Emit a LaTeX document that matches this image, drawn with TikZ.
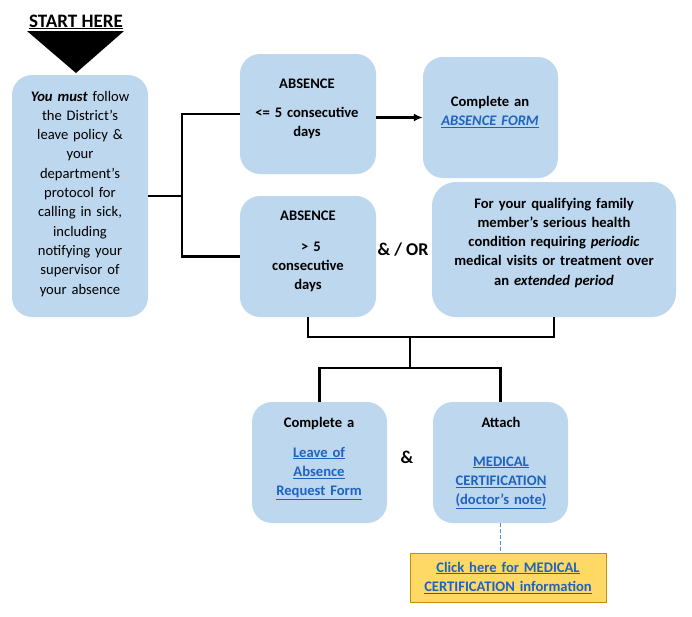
\documentclass[tikz,border=0pt]{standalone}
\usepackage{fontspec}
\setmainfont{Carlito}
\usetikzlibrary{arrows.meta}

\definecolor{boxblue}{HTML}{BDD7EE}
\definecolor{linkblue}{HTML}{1F63C0}
\definecolor{noteyellow}{HTML}{FFD966}
\definecolor{noteedge}{HTML}{C09200}
\definecolor{dashblue}{HTML}{5B8FCB}

\tikzset{
  box/.style={fill=boxblue, rounded corners=20pt, inner sep=0pt},
  txt/.style={anchor=base, align=center, inner sep=0pt, font=\fontsize{14.6}{19.3}\selectfont\bfseries},
  conn/.style={line width=2.2pt, black},
}
\newcommand{\lnk}[1]{\textcolor{linkblue}{\underline{#1}}}

\begin{document}
\begin{tikzpicture}[x=1pt, y=-1pt]
\fill[white] (0,0) rectangle (692,616);
\useasboundingbox (0,0) rectangle (692,616);

% Start marker
\node[anchor=base, inner sep=0pt, font=\fontsize{19}{22}\selectfont\bfseries] (starthere) at (76,27) {\underline{START HERE}};
\fill (27,31) -- (124,31) -- (76,73) -- cycle;

% Boxes
\node[box, minimum width=136pt, minimum height=242pt] (start) at (80,196) {};
\node[box, minimum width=136pt, minimum height=120pt] (abs1) at (308,114) {};
\node[box, minimum width=135pt, minimum height=121pt] (form) at (490.5,117.5) {};
\node[box, minimum width=136pt, minimum height=121pt] (abs2) at (308,256.5) {};
\node[box, minimum width=244pt, minimum height=135pt, rounded corners=24pt] (family) at (554,249.5) {};
\node[box, minimum width=135pt, minimum height=121pt] (leave) at (319.5,462.5) {};
\node[box, minimum width=135pt, minimum height=121pt] (attach) at (500.5,462.5) {};
\node[fill=noteyellow, draw=noteedge, line width=1pt, inner sep=0pt,
      minimum width=196pt, minimum height=49pt] (medinfo) at (508.5,577.5) {};

% Box texts
\node[txt, font=\fontsize{14.6}{19.3}\selectfont, text width=130pt] (starttxt) at (80,101)
  {\textbf{\textit{You must}} follow\\ the District’s\\ leave policy \&\\ your\\ department’s\\ protocol for\\ calling in sick,\\ including\\ notifying your\\ supervisor of\\ your absence};
\node[txt, text width=130pt] (abs1txt) at (307,88) {ABSENCE\\[9.7pt] <= 5 consecutive\\ days};
\node[txt, text width=130pt] (formtxt) at (490,106) {Complete an\\ \lnk{\textit{ABSENCE FORM}}};
\node[txt, text width=130pt] (abs2txt) at (308,220) {ABSENCE\\[11.7pt] \hspace*{6pt}> 5\\ consecutive\\ days};
\node[txt, text width=240pt] (familytxt) at (554,208)
  {For your qualifying family\\ member’s serious health\\ condition requiring \textit{periodic}\\ medical visits or treatment over\\ an \textit{extended period}};
\node[txt, text width=130pt] (leavetxt) at (319,427) {Complete a\\[10.7pt] \lnk{Leave of}\\ \lnk{Absence}\\ \lnk{Request Form}};
\node[txt, text width=130pt] (attachtxt) at (501,427) {Attach\\[19.7pt] \lnk{MEDICAL}\\ \lnk{CERTIFICATION}\\ \lnk{(doctor’s note)}};
\node[txt, text width=190pt] (medinfotxt) at (508,572) {\lnk{Click here for MEDICAL}\\ \lnk{CERTIFICATION information}};

% Joining words
\node[font=\fontsize{18}{20}\selectfont\bfseries] (andor) at (403,250) {\& / OR};
\node[font=\fontsize{18}{20}\selectfont\bfseries] (amp) at (407,457) {\&};

% Connectors
\coordinate (split) at (182,196);
\coordinate (merge) at (410,337);
\coordinate (fork) at (410,368);
\draw[conn] (start.east) -- (split);
\draw[conn] (abs1.west) -| (split) |- (abs2.west);
\draw[conn, -{Latex[length=9pt,width=8pt]}] (abs1.east |- form.west) -- (form.west);
\draw[conn] (abs2.south) |- (merge) -| (family.south);
\draw[conn] (merge) -- (fork);
\draw[conn] (leave.north) |- (fork) -| (attach.north);
\draw[dashblue, line width=1.5pt, dash pattern=on 4pt off 2pt] (attach.south) -- (attach.south |- medinfo.north);

\end{tikzpicture}
\end{document}
